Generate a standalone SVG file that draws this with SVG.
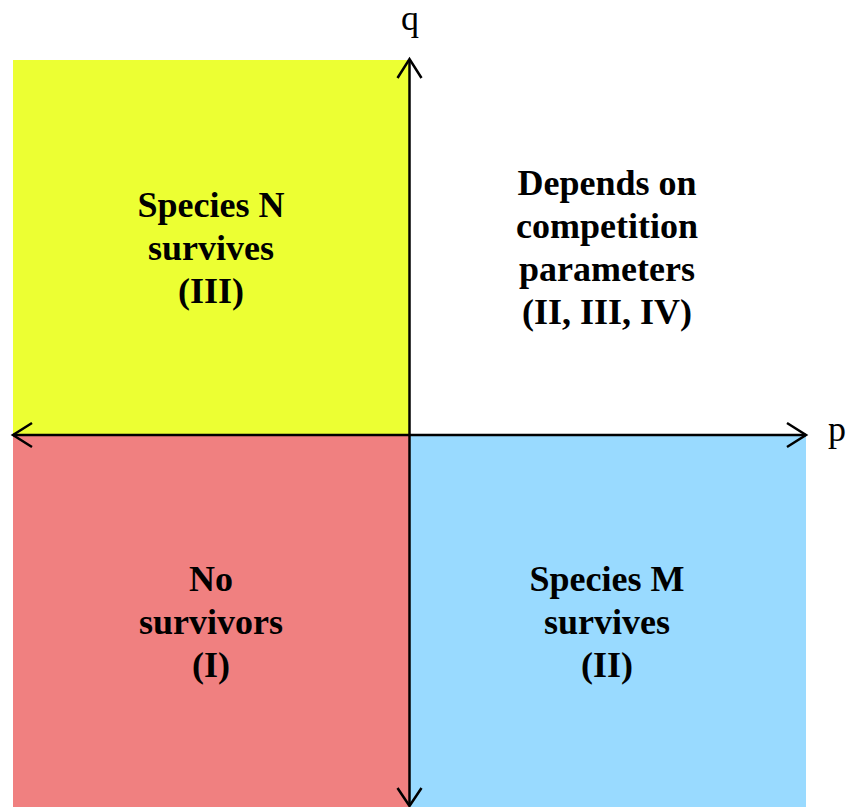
<svg xmlns="http://www.w3.org/2000/svg" width="849" height="807" viewBox="0 0 849 807">
<style>
.lbl{font-family:"Liberation Serif","Times New Roman",serif;font-size:36px;font-weight:bold;text-anchor:middle;fill:#000}
.ax{font-family:"Liberation Serif","Times New Roman",serif;font-size:36px;text-anchor:middle;fill:#000}
.axis{stroke:#000;stroke-width:2.5;fill:none}
</style>
<g id="quadrant-II-N">
<rect x="13" y="60" width="396" height="375" fill="#ECFF33"/>
<text class="lbl" x="211" y="217">Species N</text>
<text class="lbl" x="211" y="260">survives</text>
<text class="lbl" x="211" y="303">(III)</text>
</g>
<g id="quadrant-I-depends">
<text class="lbl" x="607" y="195">Depends on</text>
<text class="lbl" x="607" y="238">competition</text>
<text class="lbl" x="607" y="281">parameters</text>
<text class="lbl" x="607" y="324">(II, III, IV)</text>
</g>
<g id="quadrant-III-none">
<rect x="13" y="435" width="396" height="372" fill="#F08080"/>
<text class="lbl" x="211" y="591">No</text>
<text class="lbl" x="211" y="634">survivors</text>
<text class="lbl" x="211" y="677">(I)</text>
</g>
<g id="quadrant-IV-M">
<rect x="409" y="435" width="397" height="372" fill="#99DAFF"/>
<text class="lbl" x="607" y="591">Species M</text>
<text class="lbl" x="607" y="634">survives</text>
<text class="lbl" x="607" y="677">(II)</text>
</g>
<g id="axes">
<line class="axis" x1="13" y1="435" x2="806" y2="435"/>
<line class="axis" x1="409.5" y1="59" x2="409.5" y2="806"/>
<polyline class="axis" points="32,423 13,435 32,447"/>
<polyline class="axis" points="787,423 806,435 787,447"/>
<polyline class="axis" points="397.5,78 409.5,59 421.5,78"/>
<polyline class="axis" points="397.5,788 409.5,806 421.5,788"/>
<text class="ax" x="410" y="30">q</text>
<text class="ax" x="837" y="441">p</text>
</g>
</svg>
